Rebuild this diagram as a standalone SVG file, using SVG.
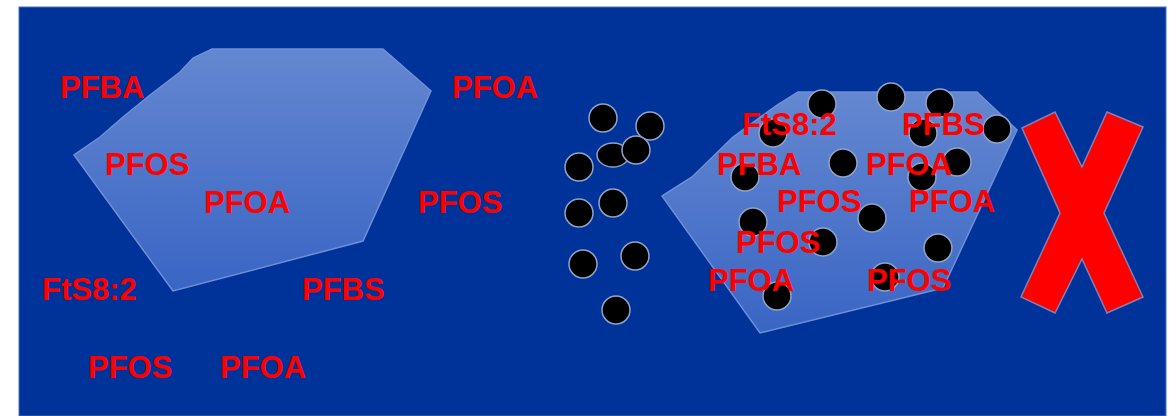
<svg xmlns="http://www.w3.org/2000/svg" width="1176" height="416" viewBox="0 0 1176 416">
  <defs>
    <linearGradient id="gel" x1="0" y1="0" x2="0" y2="1">
      <stop offset="0" stop-color="#6487d0"/>
      <stop offset="1" stop-color="#3965c4"/>
    </linearGradient>
    <style>
      .lbl { font-family: "Liberation Sans", Arial, sans-serif; font-weight: bold; font-size: 31px; fill: #ff0000; }
      .gel { fill: url(#gel); stroke: #6f8fd6; stroke-width: 1.5; }
      .bead { fill: #000000; stroke: #8fa3c8; stroke-width: 1.5; }
      .cross { fill: #ff0000; stroke: #8080b8; stroke-width: 1.5; }
    </style>
  </defs>

  <!-- page and panel background -->
  <rect x="0" y="0" width="1176" height="416" fill="#ffffff"/>
  <rect x="19" y="7" width="1147" height="409" fill="#003399" stroke="#4a6cc0" stroke-width="1"/>

  <!-- left: sorbent with free molecules -->
  <g id="sorbent-left">
    <polygon class="gel" points="212,49 383,49 431,91 363,241 173,291 74,155 100,137 123,117 150,95 180,72 193,58"/>
  </g>
  <g id="labels-left">
    <text class="lbl" x="60" y="98">PFBA</text>
    <text class="lbl" x="452" y="98">PFOA</text>
    <text class="lbl" x="105" y="175">PFOS</text>
    <text class="lbl" x="204" y="213">PFOA</text>
    <text class="lbl" x="418" y="213">PFOS</text>
    <text class="lbl" x="42" y="300">FtS8:2</text>
    <text class="lbl" x="302" y="300">PFBS</text>
    <text class="lbl" x="88" y="378">PFOS</text>
    <text class="lbl" x="220" y="378">PFOA</text>
  </g>

  <!-- middle: loose particles -->
  <g id="particles-free">
    <circle class="bead" cx="603" cy="118" r="14"/>
    <circle class="bead" cx="650" cy="126" r="14"/>
    <ellipse class="bead" cx="613" cy="155" rx="16" ry="12"/>
    <circle class="bead" cx="636" cy="150" r="14"/>
    <circle class="bead" cx="579" cy="167" r="14"/>
    <circle class="bead" cx="613" cy="203" r="14"/>
    <circle class="bead" cx="579" cy="213" r="14"/>
    <circle class="bead" cx="635" cy="256" r="14"/>
    <circle class="bead" cx="583" cy="264" r="14"/>
    <circle class="bead" cx="616" cy="310" r="14"/>
  </g>

  <!-- right: loaded sorbent -->
  <g id="sorbent-right">
    <polygon class="gel" points="798,92 977,92 1017,130 943,288 760,333 662,196 692,177 733,137 777,105"/>
    <circle class="bead" cx="822" cy="104" r="14"/>
    <circle class="bead" cx="891" cy="97" r="14"/>
    <circle class="bead" cx="940" cy="103" r="14"/>
    <circle class="bead" cx="997" cy="129" r="14"/>
    <circle class="bead" cx="773" cy="133" r="14"/>
    <circle class="bead" cx="923" cy="133" r="14"/>
    <circle class="bead" cx="957" cy="162" r="14"/>
    <circle class="bead" cx="843" cy="163" r="14"/>
    <circle class="bead" cx="745" cy="177" r="14"/>
    <circle class="bead" cx="922" cy="177" r="14"/>
    <circle class="bead" cx="872" cy="218" r="14"/>
    <circle class="bead" cx="753" cy="222" r="14"/>
    <circle class="bead" cx="823" cy="242" r="14"/>
    <circle class="bead" cx="938" cy="248" r="14"/>
    <circle class="bead" cx="885" cy="277" r="14"/>
    <circle class="bead" cx="777" cy="296" r="14"/>
  </g>
  <g id="labels-right">
    <text class="lbl" x="742" y="135">FtS8:2</text>
    <text class="lbl" x="902" y="135">PFBS</text>
    <text class="lbl" x="717" y="175">PFBA</text>
    <text class="lbl" x="866" y="175">PFOA</text>
    <text class="lbl" x="777" y="212">PFOS</text>
    <text class="lbl" x="909" y="212">PFOA</text>
    <text class="lbl" x="736" y="253">PFOS</text>
    <text class="lbl" x="708" y="291">PFOA</text>
    <text class="lbl" x="867" y="291">PFOS</text>
  </g>

  <!-- red cross -->
  <g id="cross">
    <polygon class="cross" points="1022,128 1055,112 1082,167 1107,112 1143,127 1104,213 1143,297 1107,313 1082,259 1055,313 1021,297 1060,213"/>
  </g>
</svg>
